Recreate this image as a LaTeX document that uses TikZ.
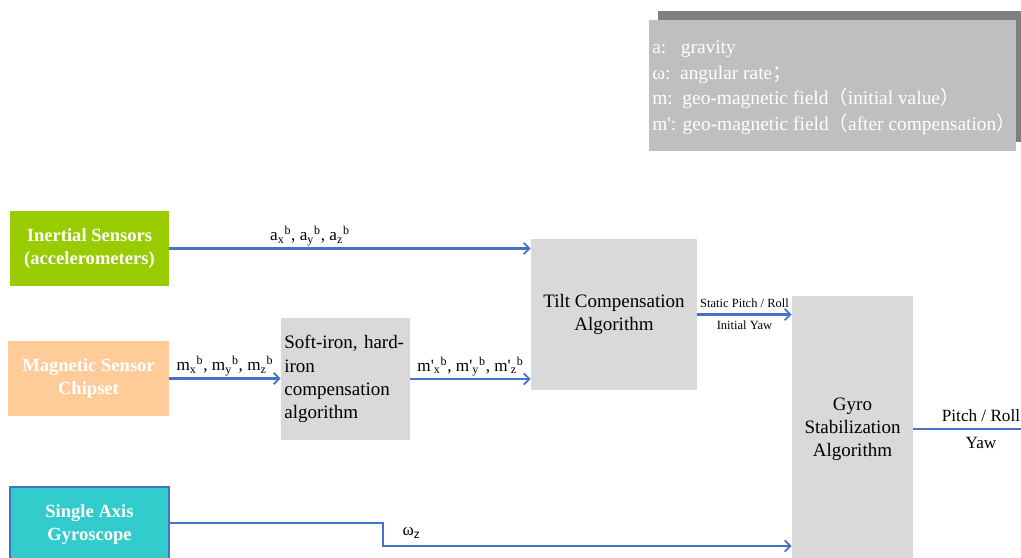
\documentclass[tikz,border=0pt]{standalone}
\usepackage{fontspec}
\setmainfont{Liberation Serif}
\newfontfamily\cjk{Noto Sans CJK SC}
\newfontfamily\sanslatin{Liberation Sans}
\usetikzlibrary{arrows.meta}
\definecolor{inertialgreen}{HTML}{99CC00}
\definecolor{magorange}{HTML}{FFCC99}
\definecolor{gyrocyan}{HTML}{33CCCC}
\definecolor{algogray}{HTML}{D9D9D9}
\definecolor{legendgray}{HTML}{BFBFBF}
\definecolor{shadowgray}{HTML}{7F7F7F}
\definecolor{flowblue}{HTML}{4472C4}
\newcommand{\prm}{\textquotesingle}
\begin{document}
\begin{tikzpicture}[x=0.025cm,y=-0.025cm,
  sensor/.style={rectangle, inner sep=0pt, text=white, align=center,
    font=\fontsize{13.2}{16.3}\selectfont\bfseries,
    minimum width=3.975cm, minimum height=1.875cm},
  algo/.style={rectangle, fill=algogray, inner sep=0pt, align=center,
    font=\fontsize{13.5}{16.5}\selectfont},
  flow/.style={draw=flowblue, line width=1.5pt,
    -{Straight Barb[length=4pt,width=8pt,line width=1.3pt]}},
  plainflow/.style={draw=flowblue, line width=1.5pt},
  sig/.style={inner sep=1pt, font=\fontsize{12.2}{14}\selectfont},
  small/.style={inner sep=1pt, font=\fontsize{8.9}{10}\selectfont}]
\clip (0,0) rectangle (1021,558);

% legend with drop shadow
\fill[shadowgray] (658,11) rectangle (1021,142);
\fill[legendgray] (649,20) rectangle (1016,151);
\node[anchor=west, inner sep=0pt, text=white, align=left,
      font=\fontsize{13.8}{18.1}\selectfont] (legend) at (652,87.5)
  {a:\ \ \ gravity\\
   ω:\ \ angular rate{\cjk ；}\\
   m:\ \ geo-magnetic field{\cjk （}initial value{\cjk ）}\\
   m\prm: geo-magnetic field{\cjk （}after compensation{\cjk ）}};

% sensors
\node[sensor, fill=inertialgreen] (inertial) at (89.5,248.5)
  {Inertial Sensors\\(accelerometers)};
\node[sensor, fill=magorange, minimum width=4.025cm] (magnetic) at (88.5,378.5)
  {Magnetic Sensor\\Chipset};
\node[sensor, fill=gyrocyan, draw=flowblue, line width=0.9pt] (gyroscope) at (89.5,524.5)
  {Single Axis\\Gyroscope};

% algorithm blocks
\node[algo, minimum width=3.225cm, minimum height=3.05cm, text width=3.125cm,
      align=left] (softiron) at (345.5,379)
  {\hspace*{1pt}Soft-iron, hard-\\\hspace*{1pt}iron\\\hspace*{1pt}compensation\\\hspace*{1pt}algorithm};
\node[algo, minimum width=4.15cm, minimum height=3.775cm] (tilt) at (614,314.5)
  {Tilt Compensation\\Algorithm};
\node[algo, minimum width=3.025cm, minimum height=6.65cm] (gyro) at (852.5,429)
  {Gyro\\Stabilization\\Algorithm};

% signal paths
\draw[flow] (inertial.east) -- (inertial.east -| tilt.west)
  node[sig, midway, above, xshift=-1cm]
  {a\textsubscript{x}\textsuperscript{b}, a\textsubscript{y}\textsuperscript{b}, a\textsubscript{z}\textsuperscript{b}};
\draw[flow] (magnetic.east) -- (magnetic.east -| softiron.west)
  node[sig, midway, above]
  {m\textsubscript{x}\textsuperscript{b}, m\textsubscript{y}\textsuperscript{b}, m\textsubscript{z}\textsuperscript{b}};
\draw[flow] (softiron.east) -- (softiron.east -| tilt.west)
  node[sig, midway, above]
  {m\prm\textsubscript{x}\textsuperscript{b}, m\prm\textsubscript{y}\textsuperscript{b}, m\prm\textsubscript{z}\textsuperscript{b}};
\draw[flow] (tilt.east) -- (tilt.east -| gyro.west)
  node[small, midway, above, yshift=3pt] {Static Pitch / Roll}
  node[small, midway, below, yshift=-3pt] {Initial Yaw};

\coordinate (out) at (1021,429);
\draw[plainflow] (gyro.east) -- (out);
\node[sig, anchor=south] (pitchroll) at (981,423) {Pitch / Roll};
\node[sig, anchor=north] (yaw) at (981,436) {Yaw};

\coordinate (bendA) at (383,523);
\coordinate (bendB) at (383,546);
\draw[flow] (gyroscope.east |- bendA) -- (bendA) -- (bendB) -- (bendB -| gyro.west);
\node[sig, anchor=west] (omega) at (401,533) {ω\textsubscript{\sanslatin z}};
\end{tikzpicture}
\end{document}
